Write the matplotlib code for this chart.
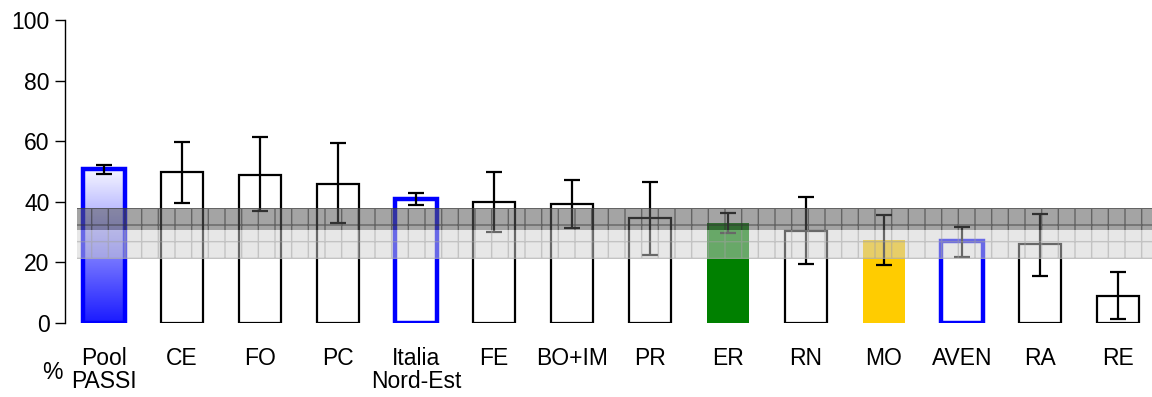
import matplotlib.pyplot as plt
import numpy as np

plt.rcParams['font.family'] = ['Liberation Sans', 'DejaVu Sans']

labels = ["Pool\nPASSI", "CE", "FO", "PC", "Italia\nNord-Est", "FE", "BO+IM",
          "PR", "ER", "RN", "MO", "AVEN", "RA", "RE"]
values = [50.8, 49.8, 49.0, 46.0, 41.0, 40.0, 39.3, 34.5, 33.0, 30.5, 27.5, 27.0, 26.0, 9.0]
err_low = [49.2, 39.6, 36.8, 33.0, 39.0, 30.0, 31.5, 22.5, 29.7, 19.5, 19.2, 21.8, 15.6, 1.3]
err_high = [52.1, 59.7, 61.5, 59.4, 43.0, 50.0, 47.3, 46.4, 36.2, 41.5, 35.7, 31.7, 36.0, 16.8]
band_dark = (30.8, 38.0)
band_light = (21.0, 30.8)

fig = plt.figure(figsize=(11.52, 3.97), dpi=100)
ax = fig.add_axes([65/1152, 1-323/397, 1-65/1152, 303/397])

x = np.arange(len(labels))
w = 0.54
face = ['none', 'white', 'white', 'white', 'white', 'white', 'white',
        'white', '#008000', 'white', '#ffcc00', 'white', 'white', 'white']
edge = ['#0000ff', 'black', 'black', 'black', '#0000ff', 'black', 'black',
        'black', '#008000', 'black', '#ffcc00', '#0000ff', 'black', 'black']
lw = [3.2, 1.6, 1.6, 1.6, 3.2, 1.6, 1.6, 1.6, 0, 1.6, 0, 3.2, 1.6, 1.6]

bars = ax.bar(x, values, width=w, color=face, edgecolor=edge, linewidth=lw, zorder=2)

# gradient fill for the pool bar
grad = np.linspace(0, 1, 256).reshape(-1, 1)
cmap = plt.matplotlib.colors.LinearSegmentedColormap.from_list('g', ['#1a1aff', '#f6f6ff'])
im = ax.imshow(grad, cmap=cmap, aspect='auto', origin='lower',
               extent=[x[0]-w/2, x[0]+w/2, 0, values[0]], zorder=1.5)
im.set_clip_path(bars[0])

yerr = [np.array(values) - np.array(err_low), np.array(err_high) - np.array(values)]
ax.errorbar(x, values, yerr=yerr, fmt='none', ecolor='black', elinewidth=1.6,
            capsize=6, capthick=1.6, zorder=3)

xmin_ax = (77-65)/1087
ax.axhspan(band_dark[0], band_dark[1], xmin=xmin_ax, xmax=1, facecolor='#5a5a5a',
           edgecolor='#303030', alpha=0.55, hatch='+', linewidth=0, zorder=4)
ax.axhspan(band_light[0], band_light[1], xmin=xmin_ax, xmax=1, facecolor='#d0d0d0',
           edgecolor='#a0a0a0', alpha=0.5, hatch='+', linewidth=0, zorder=4)

ax.set_xlim(-0.5, -0.5 + 1087/78)
ax.set_ylim(0, 100)
ax.set_yticks([0, 20, 40, 60, 80, 100])
ax.set_xticks(x)
ax.set_xticklabels(labels, fontsize=16.5, linespacing=1.0)
ax.tick_params(axis='x', length=0, pad=17)
ax.tick_params(axis='y', labelsize=16.5, length=7, width=1, direction='out', pad=4)
for s in ['top', 'right', 'bottom']:
    ax.spines[s].set_visible(False)
ax.spines['left'].set_linewidth(1)

ax.text(-0.66, -16.5, '%', fontsize=16.5, ha='center', va='center', clip_on=False)

fig.savefig('out.png', dpi=100)
